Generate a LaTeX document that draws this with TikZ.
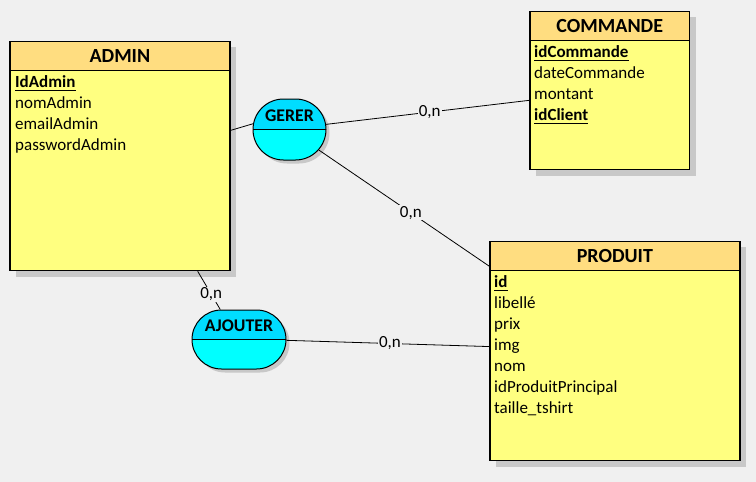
\documentclass[tikz,border=0pt]{standalone}
\usepackage{fontspec}
\setmainfont{Carlito}
\usetikzlibrary{shapes.misc,shadows,calc}
\definecolor{bg}{RGB}{240,240,240}
\definecolor{headY}{RGB}{255,221,128}
\definecolor{bodyY}{RGB}{255,255,128}
\definecolor{cyanT}{RGB}{0,221,255}
\definecolor{cyanB}{RGB}{0,255,255}
\definecolor{shade}{RGB}{200,200,200}
\tikzset{
  ent/.style={rectangle, draw, line width=1.2pt, fill=bodyY, anchor=north west, inner sep=0pt,
    drop shadow={shadow xshift=6pt, shadow yshift=-6pt, fill=shade, opacity=1},
    path picture={\fill[headY] (path picture bounding box.north west) rectangle ([yshift=-29.5pt]path picture bounding box.north east);
      \draw[line width=1.2pt] ([yshift=-29.5pt]path picture bounding box.north west) -- ([yshift=-29.5pt]path picture bounding box.north east);}},
  etitle/.style={inner sep=0pt, font=\bfseries\fontsize{20}{20}\selectfont},
  attr/.style={anchor=base west, inner sep=0pt, font=\fontsize{17}{17}\selectfont},
  keyattr/.style={anchor=base west, inner sep=0pt, font=\bfseries\fontsize{17}{17}\selectfont},
  uline/.style={line width=1.1pt},
  asso/.style={rounded rectangle, draw, line width=1pt, fill=cyanB, inner sep=0pt,
    drop shadow={shadow xshift=3.5pt, shadow yshift=-3.5pt, fill=shade, opacity=1},
    path picture={\fill[cyanT] (path picture bounding box.north west) rectangle (path picture bounding box.east);
      \draw[line width=1pt] (path picture bounding box.west) -- (path picture bounding box.east);}},
  atitle/.style={inner sep=0pt, font=\bfseries\fontsize{17.8}{17.8}\selectfont},
  conn/.style={line width=0.8pt, black},
  card/.style={fill=bg, inner sep=1pt, font=\fontsize{17}{17}\selectfont},
}
\begin{document}
\begin{tikzpicture}[x=1pt, y=-1pt]
\fill[bg] (0,0) rectangle (756,482);
\useasboundingbox (0,0) rectangle (756,482);

% ADMIN
\node[ent, minimum width=220pt, minimum height=229.3pt] (admin) at (9.3,40.7) {};
\node[etitle] (admin-t) at ($(admin.north)+(0,15)$) {ADMIN};
\node[keyattr] (admin-a1) at (15,87) {IdAdmin};
\node[attr] (admin-a2) at (15,108) {nomAdmin};
\node[attr] (admin-a3) at (15,129) {emailAdmin};
\node[attr] (admin-a4) at (15,150) {passwordAdmin};
\draw[uline] ($(admin-a1.base west)+(0,3.6)$) -- ($(admin-a1.base east)+(0,3.6)$);

% COMMANDE
\node[ent, minimum width=159.7pt, minimum height=158.3pt] (cmd) at (529.3,10.7) {};
\node[etitle] (cmd-t) at ($(cmd.north)+(0,15)$) {COMMANDE};
\node[keyattr] (cmd-a1) at (534,57) {idCommande};
\node[attr] (cmd-a2) at (534,78) {dateCommande};
\node[attr] (cmd-a3) at (534,99) {montant};
\node[keyattr] (cmd-a4) at (534,120) {idClient\ };
\draw[uline] ($(cmd-a1.base west)+(0,3.6)$) -- ($(cmd-a1.base east)+(0,3.6)$);
\draw[uline] ($(cmd-a4.base west)+(0,3.6)$) -- ($(cmd-a4.base east)+(0,3.6)$);

% PRODUIT
\node[ent, minimum width=250pt, minimum height=219.3pt] (prod) at (489.3,240.7) {};
\node[etitle] (prod-t) at ($(prod.north)+(0,15)$) {PRODUIT};
\node[keyattr] (prod-a1) at (494,287) {id};
\node[attr] (prod-a2) at (494,308) {libellé};
\node[attr] (prod-a3) at (494,329) {prix};
\node[attr] (prod-a4) at (494,350) {img};
\node[attr] (prod-a5) at (494,371) {nom};
\node[attr] (prod-a6) at (494,392) {idProduitPrincipal};
\node[attr] (prod-a7) at (494,413) {taille\_tshirt};
\draw[uline] ($(prod-a1.base west)+(0,3.6)$) -- ($(prod-a1.base east)+(0,3.6)$);

% Associations
\node[asso, minimum width=73pt, minimum height=61pt] (gerer) at (289.5,129.5) {};
\node[atitle] (gerer-t) at (289.5,116.2) {GERER};
\node[asso, minimum width=94pt, minimum height=59pt] (ajouter) at (239,339.5) {};
\node[atitle] (ajouter-t) at (239,325.8) {AJOUTER};

% Connectors
\draw[conn] (admin.13.8) -- (gerer.171);
\draw[conn] (gerer.8.1) -- node[card, pos=0.51] {0,n} (cmd.187.46);
\draw[conn] (gerer.-35.4) -- node[card, pos=0.54] {0,n} (prod.146.2);
\draw[conn] (admin.-56.57) -- node[card, pos=0.6] {0,n} (ajouter.122.8);
\draw[conn] (ajouter.-1.8) -- node[card, pos=0.51] {0,n} (prod.178);
\end{tikzpicture}
\end{document}
